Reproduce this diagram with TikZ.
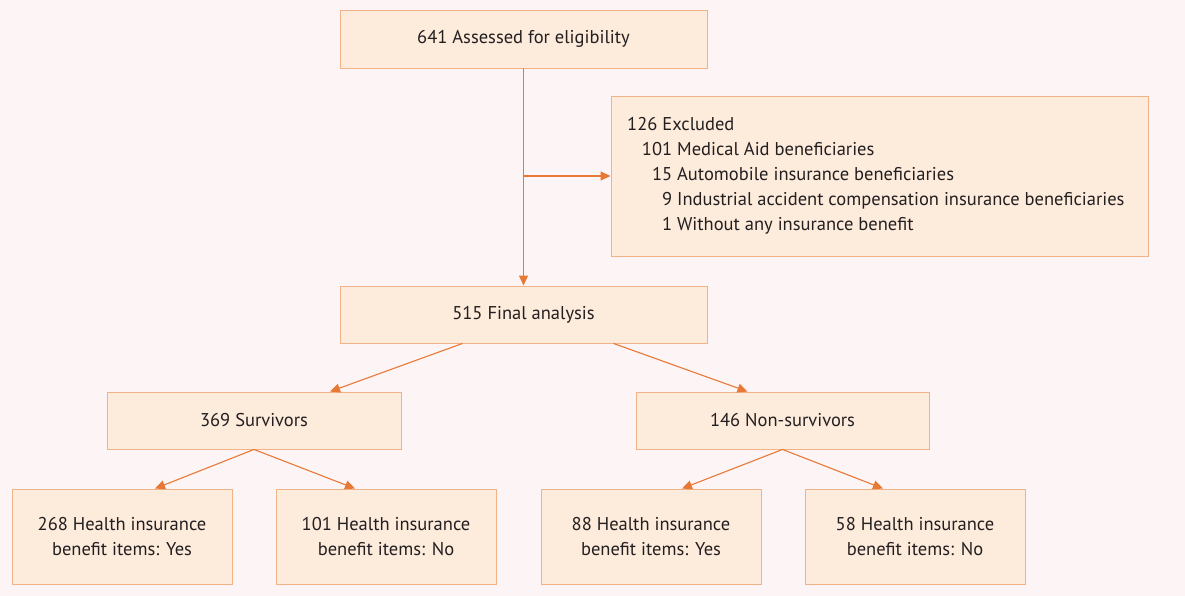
\documentclass[tikz,border=0pt]{standalone}
\usepackage{fontspec}
\setmainfont{PT Sans}
\usetikzlibrary{arrows.meta}
\definecolor{bgc}{HTML}{FDF5F5}
\definecolor{boxfill}{HTML}{FDEBDC}
\definecolor{boxline}{HTML}{F0B387}
\definecolor{arr}{HTML}{E87835}
\definecolor{txt}{HTML}{231F20}
\tikzset{
  box/.style={draw=boxline, fill=boxfill, line width=0.9pt, inner sep=0pt, align=center, text=txt,
    font=\fontsize{18.5}{25}\selectfont},
  conn/.style={draw=arr, line width=1.1pt, -{Triangle[length=10pt,width=9pt]}}
}
\begin{document}
\begin{tikzpicture}[x=1pt,y=-1pt]
\fill[bgc] (0,0) rectangle (1185,596);
\useasboundingbox (0,0) rectangle (1185,596);
\node[box, minimum width=367pt, minimum height=58pt] (assess) at (523.5,39) {641 Assessed for eligibility};
\node[box, minimum width=537pt, minimum height=160pt] (excl) at (879.5,176) {};
\node[anchor=west, align=left, inner sep=0pt, text=txt, font=\fontsize{18.5}{25}\selectfont] (excltext) at (627,176)
  {126 Excluded\\
   \makebox[45pt][r]{101} Medical Aid beneficiaries\\
   \makebox[45pt][r]{15} Automobile insurance beneficiaries\\
   \makebox[45pt][r]{9} Industrial accident compensation insurance beneficiaries\\
   \makebox[45pt][r]{1} Without any insurance benefit};
\node[box, minimum width=367pt, minimum height=57pt] (final) at (523.5,314.5) {515 Final analysis};
\node[box, minimum width=294pt, minimum height=57pt] (surv) at (254,420.5) {369 Survivors};
\node[box, minimum width=293pt, minimum height=57pt] (nons) at (782.5,420.5) {146 Non-survivors};
\node[box, minimum width=220pt, minimum height=95pt] (a) at (122,536.5) {268 Health insurance\\benefit items: Yes};
\node[box, minimum width=220pt, minimum height=95pt] (b) at (386,536.5) {101 Health insurance\\benefit items: No};
\node[box, minimum width=220pt, minimum height=95pt] (c) at (651,536.5) {88 Health insurance\\benefit items: Yes};
\node[box, minimum width=220pt, minimum height=95pt] (d) at (915,536.5) {58 Health insurance\\benefit items: No};
\coordinate (branch) at (assess.south |- excl.west);
\draw[conn] (assess.south) -- (final.north);
\draw[conn] (branch) -- (excl.west);
\draw[conn] ([xshift=-61pt]final.south) -- ([xshift=76pt]surv.north);
\draw[conn] ([xshift=90pt]final.south) -- ([xshift=-35pt]nons.north);
\draw[conn] (surv.south) -- ([xshift=33pt]a.north);
\draw[conn] (surv.south) -- ([xshift=-31pt]b.north);
\draw[conn] (nons.south) -- ([xshift=31pt]c.north);
\draw[conn] (nons.south) -- ([xshift=-32pt]d.north);
\end{tikzpicture}
\end{document}
